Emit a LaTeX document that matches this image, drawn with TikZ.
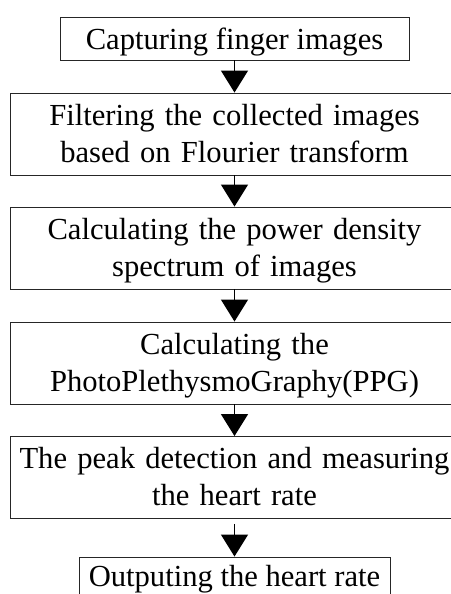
\documentclass[tikz,border=0pt]{standalone}
\usepackage{fontspec}
\setmainfont{Liberation Serif}
\usetikzlibrary{arrows.meta}
\begin{document}
\begin{tikzpicture}[x=1pt, y=-1pt,
  stepbox/.style={draw=black!85, line width=0.9pt, inner xsep=0pt, inner ysep=0pt,
    align=center, font=\fontsize{30.6}{37}\selectfont},
  onebox/.style={stepbox, text height=32pt, text depth=11pt},
  lastbox/.style={stepbox, text height=29pt, text depth=14pt},
  twobox/.style={stepbox, text width=440pt, minimum width=449pt,
    text height=32pt, text depth=50pt},
  flow/.style={line width=1.4pt, -{Triangle[width=27pt, length=22pt]}}]
  \fill[white] (0,0) rectangle (450,594);
  \useasboundingbox (0,0) rectangle (450,594);

  \node[onebox, minimum width=349pt] (b1) at (234.5,38.5) {Capturing finger images};
  \node[twobox] (b2) at (234.5,134) {Filtering the collected images\\based on Flourier transform};
  \node[twobox] (b3) at (234.5,248) {Calculating the power density\\spectrum of images};
  \node[twobox] (b4) at (234.5,363) {Calculating the\\PhotoPlethysmoGraphy(PPG)};
  \node[twobox] (b5) at (234.5,477.5) {The peak detection and measuring\\the heart rate};
  \node[lastbox, minimum width=311pt] (b6) at (234.5,578.5) {Outputing the heart rate};

  \draw[flow] (b1.south) -- (b2.north);
  \draw[flow] (b2.south) -- (b3.north);
  \draw[flow] (b3.south) -- (b4.north);
  \draw[flow] (b4.south) -- (b5.north);
  \draw[flow] ([yshift=-5pt]b5.south) -- (b6.north);
\end{tikzpicture}
\end{document}
